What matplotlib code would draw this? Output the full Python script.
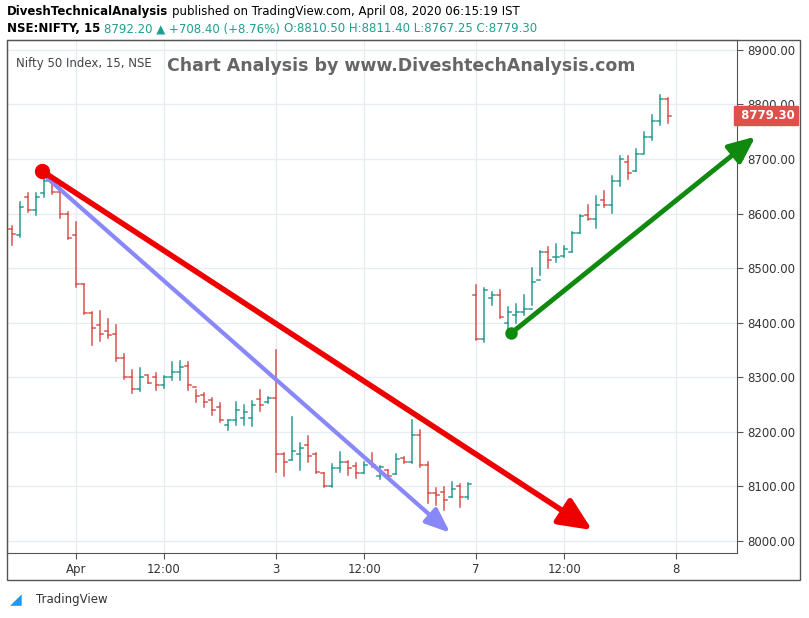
import matplotlib
matplotlib.use("Agg")
import matplotlib.pyplot as plt
from matplotlib.patches import Rectangle, FancyArrowPatch
import numpy as np

# 15-min OHLC bars (Mar 31, Apr 1, Apr 3, Apr 7)
opens = [8572,8560,8630,8606,8638,8660,8640,8600,8560,8470,8418,8395,8385,8380,8335,8300,8278,8305,8300,8286,8300,8310,8320,8283,8268,8258,8245,8212,8222,8225,8225,8260,8255,
         8262,8160,8148,8160,8175,8160,8125,8100,8133,8145,8138,8125,8145,8120,8130,8123,8152,8145,8195,8140,8088,8090,8080,8100,8080,
         8450,8370,8445,8450,8400,8415,8420,8425,8478,8530,8520,8522,8530,8565,8598,8590,8625,8615,8660,8695,8678,8710,8740,8770,8810]
highs = [8577,8622,8638,8638,8665,8666,8660,8602,8585,8470,8420,8421,8406,8395,8343,8313,8317,8302,8308,8302,8328,8330,8328,8277,8272,8262,8253,8222,8255,8249,8257,8277,8264,
         8350,8161,8227,8180,8192,8161,8124,8141,8163,8147,8143,8145,8161,8138,8130,8159,8154,8222,8203,8145,8097,8099,8108,8104,8106,
         8469,8464,8456,8460,8429,8434,8451,8500,8532,8539,8544,8541,8566,8598,8616,8632,8641,8669,8706,8706,8718,8750,8781,8817,8811]
lows = [8542,8557,8603,8597,8630,8636,8592,8554,8466,8416,8359,8366,8372,8330,8297,8271,8275,8289,8277,8280,8295,8295,8277,8255,8245,8231,8218,8203,8213,8213,8211,8238,8253,
        8127,8119,8148,8130,8145,8124,8099,8099,8127,8121,8115,8124,8136,8114,8114,8123,8143,8143,8136,8070,8066,8057,8081,8062,8077,
        8368,8365,8433,8409,8387,8400,8414,8433,8488,8500,8511,8520,8530,8565,8588,8574,8612,8601,8651,8663,8678,8711,8735,8763,8766]
closes = [8563,8612,8606,8630,8660,8640,8600,8555,8470,8418,8390,8380,8378,8335,8300,8278,8300,8290,8285,8300,8310,8318,8285,8265,8255,8240,8222,8222,8240,8237,8250,8250,8262,
          8160,8145,8165,8170,8155,8127,8100,8133,8145,8133,8125,8140,8140,8135,8120,8150,8145,8195,8140,8088,8085,8075,8095,8080,8105,
          8370,8460,8450,8410,8420,8420,8425,8475,8530,8515,8520,8535,8565,8595,8590,8615,8615,8660,8700,8675,8710,8740,8770,8810,8779]
time_ticks = [8, 19, 33, 44, 58, 69, 83]
time_labels = ["Apr", "12:00", "3", "12:00", "7", "12:00", "8"]
price_ticks = [8000, 8100, 8200, 8300, 8400, 8500, 8600, 8700, 8800, 8900]
last_price = 8779.30

UP = "#2a9b8f"; DN = "#d9534f"

fig = plt.figure(figsize=(8.09, 6.18), dpi=100)
ax = fig.add_axes([7/809, 1-553/618, 730/809, 513/618])
ax.set_xlim(-0.625, 90.6)
ax.set_ylim(7978, 8918)

for i, (o, h, l, c) in enumerate(zip(opens, highs, lows, closes)):
    col = UP if c >= o else DN
    ax.plot([i, i], [l, h], color=col, lw=1.1)
    ax.plot([i-0.35, i], [o, o], color=col, lw=1.1)
    ax.plot([i, i+0.35], [c, c], color=col, lw=1.1)

ax.set_xticks(time_ticks)
ax.set_xticklabels(time_labels)
ax.set_yticks(price_ticks)
ax.set_yticklabels([f"{p:.2f}" for p in price_ticks])
ax.yaxis.tick_right()
ax.grid(True, color="#e6ecf0", lw=1)
ax.set_axisbelow(True)
ax.tick_params(axis="both", labelsize=8.5, colors="#333333", length=4, color="#555555")
for s in ax.spines.values():
    s.set_color("#555555")

# drawings
ax.plot([3.75], [8678], "o", color="#ee0000", ms=10, zorder=5)
ax.add_patch(FancyArrowPatch((3.75, 8678), (72.5, 8020), arrowstyle="-|>,head_length=20,head_width=9",
                             color="#ee0000", lw=4, mutation_scale=1, zorder=4, shrinkA=0, shrinkB=0))
ax.add_patch(FancyArrowPatch((4.4, 8665), (54.75, 8015), arrowstyle="-|>,head_length=15,head_width=6",
                             color="#8888f8", lw=3, mutation_scale=1, zorder=3, shrinkA=0, shrinkB=0))
ax.plot([62.4], [8381], "o", color="#0f8a0f", ms=8, zorder=5)
ax.add_patch(FancyArrowPatch((62.4, 8381), (92.9, 8741), arrowstyle="-|>,head_length=16,head_width=7",
                             color="#0f8a0f", lw=3.5, mutation_scale=1, zorder=4, clip_on=False,
                             shrinkA=0, shrinkB=0))

# last price tag
tag = ax.text(1.0, (last_price-7978)/(8918-7978), f" {last_price:.2f}", transform=ax.transAxes,
              ha="left", va="center", color="white", fontsize=8.5, fontweight="bold", zorder=10,
              bbox=dict(boxstyle="square,pad=0.25", fc="#e0504a", ec="#e0504a"))

ax.text(0.012, 0.966, "Nifty 50 Index, 15, NSE", transform=ax.transAxes, fontsize=8.5, color="#444444", va="top")
ax.text(0.54, 0.95, "Chart Analysis by www.DiveshtechAnalysis.com", transform=ax.transAxes,
        fontsize=12.5, color="#666666", fontweight="bold", ha="center", va="center")

fig.patches.append(Rectangle((7/809, 1-580/618), 793/809, 540/618, transform=fig.transFigure,
                             fill=False, ec="#555555", lw=1))

# header: chained texts
renderer = fig.canvas.get_renderer()
def chain(parts, y, x0=7):
    x = x0
    for txt, kw in parts:
        t = fig.text(x/809, 1-y/618, txt, fontsize=8.5, va="center", **kw)
        bb = t.get_window_extent(renderer=renderer)
        x = bb.x1 + 4

chain([("DiveshTechnicalAnalysis", dict(fontweight="bold")),
       ("published on TradingView.com, April 08, 2020 06:15:19 IST", {})], 12)
chain([("NSE:NIFTY, 15", dict(fontweight="bold")),
       ("8792.20 ▲ +708.40 (+8.76%)", dict(color="#1e9e8f")),
       ("O:8810.50 H:8811.40 L:8767.25 C:8779.30", dict(color="#1e9e8f"))], 29)
fig.text(36/809, 1-600/618, "TradingView", fontsize=8.5, color="#333333", va="center")
fig.text(10/809, 1-600/618, "◢", fontsize=11, color="#2196f3", va="center")

fig.savefig("out.png", dpi=100)
